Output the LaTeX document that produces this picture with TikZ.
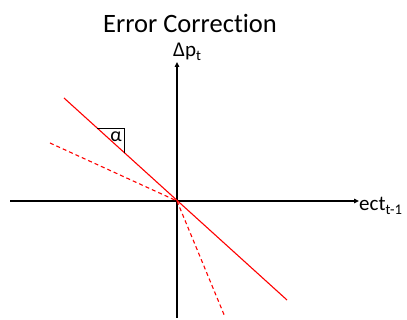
\documentclass[tikz,border=0pt]{standalone}
\usepackage{fontspec}
\setmainfont{Carlito}[Ligatures=NoCommon]
\usetikzlibrary{arrows.meta}
\begin{document}
\begin{tikzpicture}[x=1pt,y=-1pt,
  axis/.style={line width=1.6pt,-{Triangle[length=5pt,width=4.5pt]}},
  redline/.style={red,line width=1.1pt},
  reddash/.style={red,line width=1.1pt,dash pattern=on 4pt off 3pt},
  lbl/.style={inner sep=0pt,font=\fontsize{21}{24}\selectfont}]
\useasboundingbox (0,0) rectangle (407,320);
\coordinate (O) at (177,201);
\coordinate (xl) at (10,201);
\coordinate (xr) at (359,201);
\coordinate (yb) at (177,318);
\coordinate (yt) at (177,62);
\coordinate (s1) at (64,98);
\coordinate (s2) at (287,300);
\coordinate (d1) at (50,143);
\coordinate (d2) at (225,317);
\coordinate (t1) at (97,128);
\coordinate (t2) at (124,128);
\coordinate (t3) at (124,153);
\draw[axis] (xl) -- (xr);
\draw[axis] (yb) -- (yt);
\draw[redline] (s1) -- (s2);
\draw[reddash] (d1) -- (O);
\draw[reddash] (O) -- (d2);
\draw[line width=0.8pt] (t1) -- (t2) -- (t3);
\node[lbl,anchor=center,font=\fontsize{20}{22}\selectfont] (alpha) at (116,137) {α};
\node[inner sep=0pt,anchor=base,font=\fontsize{26.5}{30}\selectfont] (title) at (190,33) {Error Correction};
\node[lbl,anchor=base west] (ylab) at (173,57) {Δp\textsubscript{t}};
\node[lbl,anchor=base west] (xlab) at (359,211) {ect\textsubscript{t-1}};
\end{tikzpicture}
\end{document}
